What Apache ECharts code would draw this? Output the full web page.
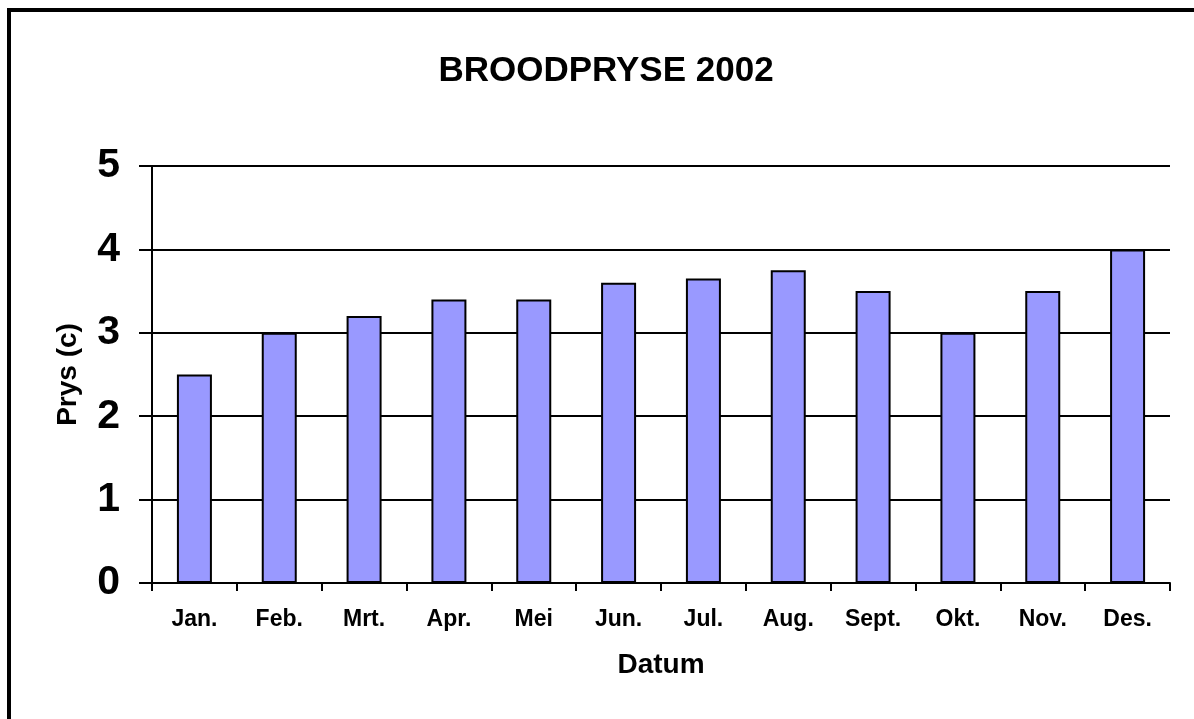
<!DOCTYPE html>
<html>
<head>
<meta charset="utf-8">
<script src="https://cdn.jsdelivr.net/npm/echarts@6/dist/echarts.min.js"></script>
<style>
html,body{margin:0;padding:0;background:#fff;}
#chart{width:1194px;height:719px;}
</style>
</head>
<body>
<div id="chart"></div>
<script>
var titleText = 'BROODPRYSE 2002';
var months = ['Jan.', 'Feb.', 'Mrt.', 'Apr.', 'Mei', 'Jun.', 'Jul.', 'Aug.', 'Sept.', 'Okt.', 'Nov.', 'Des.'];
var prices = [2.5, 3.0, 3.2, 3.4, 3.4, 3.6, 3.65, 3.75, 3.5, 3.0, 3.5, 4.0];
var yName = 'Prys (c)';
var xName = 'Datum';
var yMin = 0, yMax = 5, yStep = 1;

var FONT = '"Liberation Sans", Arial, sans-serif';
var chart = echarts.init(document.getElementById('chart'), null, {renderer: 'canvas'});
chart.setOption({
  backgroundColor: '#ffffff',
  animation: false,
  graphic: [
    {
      type: 'rect',
      shape: {x: 9, y: 10, width: 1400, height: 1000},
      style: {fill: 'none', stroke: '#000', lineWidth: 4},
      silent: true
    },
    {
      type: 'text',
      x: 606,
      y: 54,
      style: {
        text: titleText,
        font: 'bold 35px ' + FONT,
        fill: '#000',
        textAlign: 'center',
        textVerticalAlign: 'top'
      }
    }
  ],
  grid: {left: 152, right: 24, top: 166, bottom: 136, containLabel: false},
  xAxis: {
    type: 'category',
    data: months,
    name: xName,
    nameLocation: 'middle',
    nameGap: 68,
    nameTextStyle: {fontFamily: FONT, fontWeight: 'bold', fontSize: 28, color: '#000'},
    axisLine: {show: true, lineStyle: {color: '#000', width: 2}},
    axisTick: {show: true, length: 8, lineStyle: {color: '#000', width: 2}},
    axisLabel: {margin: 25, fontFamily: FONT, fontWeight: 'bold', fontSize: 23, color: '#000', interval: 0},
    splitLine: {show: false}
  },
  yAxis: {
    type: 'value',
    min: yMin,
    max: yMax,
    interval: yStep,
    name: yName,
    nameLocation: 'middle',
    nameRotate: 90,
    nameGap: 70,
    nameTextStyle: {fontFamily: FONT, fontWeight: 'bold', fontSize: 28, color: '#000'},
    axisLine: {show: true, lineStyle: {color: '#000', width: 2}},
    axisTick: {show: true, length: 13, lineStyle: {color: '#000', width: 2}},
    axisLabel: {margin: 32, fontFamily: FONT, fontWeight: 'bold', fontSize: 41, color: '#000'},
    splitLine: {show: true, lineStyle: {color: '#000', width: 2}}
  },
  series: [{
    type: 'bar',
    data: prices,
    barWidth: 35,
    itemStyle: {color: '#9999FF', borderColor: '#000', borderWidth: 2}
  }]
});
</script>
</body>
</html>
